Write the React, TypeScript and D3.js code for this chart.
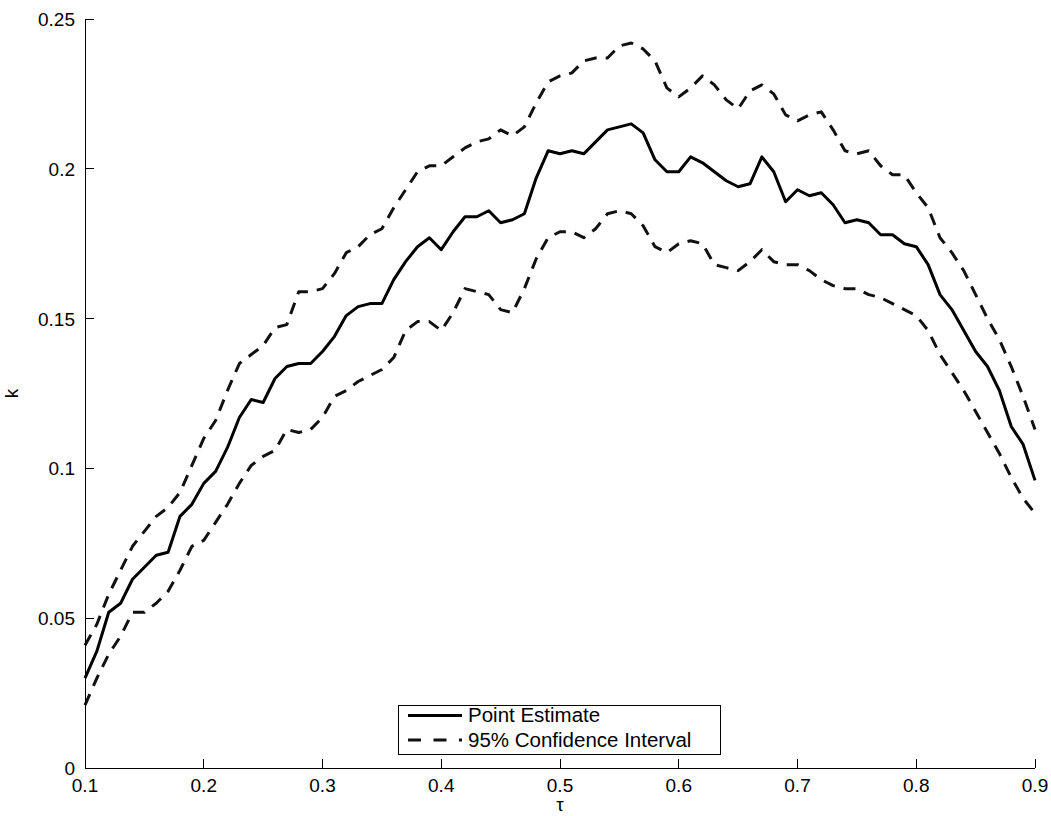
import React from "react";
import * as d3 from "d3";

// Quantile levels
const tau = [
  0.1, 0.11, 0.12, 0.13, 0.14, 0.15, 0.16, 0.17, 0.18, 0.19,
  0.2, 0.21, 0.22, 0.23, 0.24, 0.25, 0.26, 0.27, 0.28, 0.29,
  0.3, 0.31, 0.32, 0.33, 0.34, 0.35, 0.36, 0.37, 0.38, 0.39,
  0.4, 0.41, 0.42, 0.43, 0.44, 0.45, 0.46, 0.47, 0.48, 0.49,
  0.5, 0.51, 0.52, 0.53, 0.54, 0.55, 0.56, 0.57, 0.58, 0.59,
  0.6, 0.61, 0.62, 0.63, 0.64, 0.65, 0.66, 0.67, 0.68, 0.69,
  0.7, 0.71, 0.72, 0.73, 0.74, 0.75, 0.76, 0.77, 0.78, 0.79,
  0.8, 0.81, 0.82, 0.83, 0.84, 0.85, 0.86, 0.87, 0.88, 0.89, 0.9,
];

// Point estimate of k at each quantile
const estimate = [
  0.030, 0.039, 0.052, 0.055, 0.063, 0.067, 0.071, 0.072, 0.084, 0.088,
  0.095, 0.099, 0.107, 0.117, 0.123, 0.122, 0.130, 0.134, 0.135, 0.135,
  0.139, 0.144, 0.151, 0.154, 0.155, 0.155, 0.163, 0.169, 0.174, 0.177,
  0.173, 0.179, 0.184, 0.184, 0.186, 0.182, 0.183, 0.185, 0.197, 0.206,
  0.205, 0.206, 0.205, 0.209, 0.213, 0.214, 0.215, 0.212, 0.203, 0.199,
  0.199, 0.204, 0.202, 0.199, 0.196, 0.194, 0.195, 0.204, 0.199, 0.189,
  0.193, 0.191, 0.192, 0.188, 0.182, 0.183, 0.182, 0.178, 0.178, 0.175,
  0.174, 0.168, 0.158, 0.153, 0.146, 0.139, 0.134, 0.126, 0.114, 0.108, 0.096,
];

// Upper bound of the 95% confidence interval
const upper = [
  0.041, 0.048, 0.058, 0.066, 0.074, 0.079, 0.084, 0.087, 0.092, 0.101,
  0.110, 0.116, 0.126, 0.135, 0.138, 0.141, 0.147, 0.148, 0.159, 0.159,
  0.160, 0.165, 0.172, 0.174, 0.178, 0.180, 0.187, 0.193, 0.199, 0.201,
  0.201, 0.204, 0.207, 0.209, 0.210, 0.213, 0.211, 0.214, 0.222, 0.229,
  0.231, 0.232, 0.236, 0.237, 0.237, 0.241, 0.242, 0.240, 0.236, 0.227,
  0.224, 0.227, 0.231, 0.228, 0.223, 0.220, 0.226, 0.228, 0.225, 0.218,
  0.216, 0.218, 0.219, 0.213, 0.206, 0.205, 0.206, 0.201, 0.198, 0.198,
  0.192, 0.187, 0.177, 0.172, 0.166, 0.158, 0.150, 0.143, 0.134, 0.124, 0.113,
];

// Lower bound of the 95% confidence interval
const lower = [
  0.021, 0.030, 0.038, 0.044, 0.052, 0.052, 0.055, 0.059, 0.066, 0.074,
  0.076, 0.082, 0.088, 0.095, 0.101, 0.104, 0.106, 0.113, 0.112, 0.113,
  0.117, 0.124, 0.126, 0.129, 0.131, 0.133, 0.137, 0.146, 0.149, 0.149,
  0.146, 0.152, 0.160, 0.159, 0.158, 0.153, 0.152, 0.160, 0.170, 0.177,
  0.179, 0.179, 0.177, 0.180, 0.185, 0.186, 0.185, 0.181, 0.174, 0.172,
  0.175, 0.176, 0.175, 0.168, 0.167, 0.166, 0.169, 0.173, 0.169, 0.168,
  0.168, 0.166, 0.163, 0.161, 0.160, 0.160, 0.158, 0.157, 0.155, 0.153,
  0.151, 0.146, 0.138, 0.132, 0.126, 0.119, 0.112, 0.105, 0.097, 0.090, 0.085,
];

const xTicks = [0.1, 0.2, 0.3, 0.4, 0.5, 0.6, 0.7, 0.8, 0.9];
const yTicks = [0, 0.05, 0.1, 0.15, 0.2, 0.25];
const legendLabels = ["Point Estimate", "95% Confidence Interval"];

const W = 1051;
const H = 816;
const FONT = "'Liberation Sans', Arial, Helvetica, sans-serif";
const FS = 19;
const LEGEND_FS = 20.5;

export default function App() {
  const x = d3.scaleLinear().domain([0.1, 0.9]).range([85, 1035]);
  const y = d3.scaleLinear().domain([0, 0.25]).range([768, 19]);

  const line = (vals: number[]) =>
    d3
      .line<number>()
      .x((_, i) => x(tau[i]))
      .y((v) => y(v))(vals) as string;

  const tickLen = 9;
  const fmt = (v: number) => (v === 0 ? "0" : String(v));

  const lg = { x: 398, y: 705, w: 322, h: 49 };

  return (
    <svg
      width={W}
      height={H}
      style={{ position: "absolute", left: 0, top: 0, background: "#fff" }}
      fontFamily={FONT}
    >
      <rect x={0} y={0} width={W} height={H} fill="#fff" />

      {/* data */}
      <g fill="none" stroke="#000" strokeLinejoin="round">
        <path d={line(upper)} strokeWidth={3} strokeDasharray="12,9" stroke="#111" />
        <path d={line(lower)} strokeWidth={3} strokeDasharray="12,9" stroke="#111" />
        <path d={line(estimate)} strokeWidth={3} />
      </g>

      {/* axes */}
      <g stroke="#000" strokeWidth={1} shapeRendering="crispEdges">
        <line x1={x(0.1)} x2={x(0.1)} y1={y(0)} y2={y(0.25)} />
        <line x1={x(0.1)} x2={x(0.9)} y1={y(0)} y2={y(0)} />
        {xTicks.map((t) => (
          <line key={"xt" + t} x1={x(t)} x2={x(t)} y1={y(0)} y2={y(0) - tickLen} />
        ))}
        {yTicks.map((t) => (
          <line key={"yt" + t} x1={x(0.1)} x2={x(0.1) + tickLen} y1={y(t)} y2={y(t)} />
        ))}
      </g>

      <g fontSize={FS} fill="#000">
        {xTicks.map((t) => (
          <text key={"xl" + t} x={x(t)} y={y(0) + 24} textAnchor="middle">
            {fmt(t)}
          </text>
        ))}
        {yTicks.map((t) => (
          <text key={"yl" + t} x={x(0.1) - 10} y={y(t) + 7} textAnchor="end">
            {fmt(t)}
          </text>
        ))}
        <text x={(x(0.1) + x(0.9)) / 2} y={811} textAnchor="middle">
          τ
        </text>
        <text
          transform={`translate(18, ${(y(0) + y(0.25)) / 2}) rotate(-90)`}
          textAnchor="middle"
        >
          k
        </text>
      </g>

      {/* legend */}
      <g>
        <rect
          x={lg.x}
          y={lg.y}
          width={lg.w}
          height={lg.h}
          fill="#fff"
          stroke="#000"
          strokeWidth={1}
          shapeRendering="crispEdges"
        />
        <line x1={408} x2={462} y1={715.5} y2={715.5} stroke="#000" strokeWidth={3} />
        <line
          x1={408}
          x2={462}
          y1={740}
          y2={740}
          stroke="#111"
          strokeWidth={3}
          strokeDasharray="13,12.5"
        />
        <text x={468} y={722} fontSize={LEGEND_FS} fill="#000">
          {legendLabels[0]}
        </text>
        <text x={468} y={747} fontSize={LEGEND_FS} fill="#000">
          {legendLabels[1]}
        </text>
      </g>
    </svg>
  );
}
